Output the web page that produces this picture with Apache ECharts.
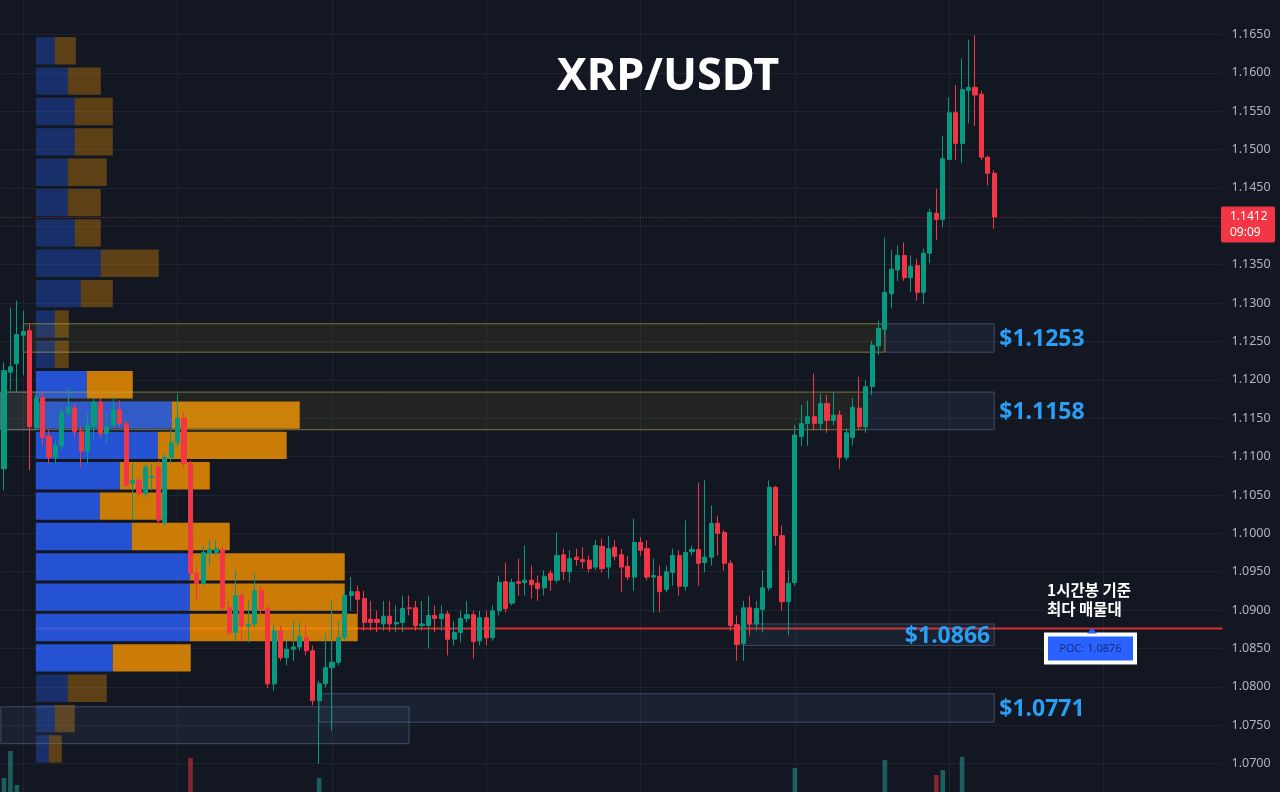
<!DOCTYPE html>
<html>
<head>
<meta charset="utf-8">
<title>XRP/USDT</title>
<script src="https://cdn.jsdelivr.net/npm/echarts@6/dist/echarts.min.js"></script>
<style>
  html, body { margin: 0; padding: 0; background: #131722; }
  #chart { width: 1280px; height: 792px; }
</style>
</head>
<body>
<div id="chart"></div>
<script>
// XRP/USDT 1시간봉 + 거래량 프로파일

// 캔들 (시가 / 종가 / 저가 / 고가)
const opens = [
  1.1084, 1.1210, 1.1221, 1.1258, 1.1264, 1.1138, 1.1177, 1.1126, 1.1099, 1.1114,
  1.1156, 1.1163, 1.1133, 1.1107, 1.1139, 1.1171, 1.1130, 1.1141, 1.1161, 1.1143,
  1.1065, 1.1069, 1.1052, 1.1073, 1.1086, 1.1014, 1.1099, 1.1118, 1.1150, 1.1091,
  1.0948, 1.0935, 1.0974, 1.0975, 1.0979, 1.0903, 1.0871, 1.0919, 1.0879, 1.0882,
  1.0925, 1.0902, 1.0804, 1.0873, 1.0838, 1.0849, 1.0852, 1.0864, 1.0847, 1.0782,
  1.0804, 1.0825, 1.0832, 1.0864, 1.0919, 1.0924, 1.0915, 1.0888, 1.0888, 1.0882,
  1.0892, 1.0882, 1.0884, 1.0903, 1.0903, 1.0880, 1.0880, 1.0893, 1.0889, 1.0895,
  1.0862, 1.0871, 1.0889, 1.0894, 1.0860, 1.0890, 1.0864, 1.0899, 1.0937, 1.0909,
  1.0937, 1.0936, 1.0939, 1.0935, 1.0929, 1.0948, 1.0939, 1.0972, 1.0950, 1.0969,
  1.0966, 1.0965, 1.0956, 1.0983, 1.0956, 1.0982, 1.0972, 1.0957, 1.0943, 1.0988,
  1.0980, 1.0943, 1.0944, 1.0927, 1.0949, 1.0971, 1.0931, 1.0976, 1.0979, 1.0962,
  1.0969, 1.1013, 1.1001, 1.0961, 1.0881, 1.0856, 1.0903, 1.0882, 1.0901, 1.0929,
  1.1060, 1.0997, 1.0911, 1.0936, 1.1126, 1.1143, 1.1152, 1.1143, 1.1169, 1.1147,
  1.1154, 1.1099, 1.1125, 1.1163, 1.1139, 1.1191, 1.1244, 1.1266, 1.1312, 1.1343,
  1.1362, 1.1333, 1.1349, 1.1314, 1.1365, 1.1417, 1.1409, 1.1487, 1.1548, 1.1508,
  1.1577, 1.1581, 1.1572, 1.1490, 1.1469
];
const closes = [
  1.1212, 1.1217, 1.1259, 1.1263, 1.1139, 1.1176, 1.1125, 1.1099, 1.1114, 1.1157,
  1.1164, 1.1133, 1.1107, 1.1141, 1.1171, 1.1130, 1.1139, 1.1161, 1.1143, 1.1062,
  1.1069, 1.1052, 1.1086, 1.1074, 1.1017, 1.1099, 1.1118, 1.1150, 1.1091, 1.0948,
  1.0935, 1.0975, 1.0979, 1.0980, 1.0903, 1.0871, 1.0919, 1.0879, 1.0881, 1.0925,
  1.0902, 1.0804, 1.0873, 1.0838, 1.0849, 1.0852, 1.0866, 1.0847, 1.0782, 1.0804,
  1.0825, 1.0832, 1.0864, 1.0919, 1.0924, 1.0914, 1.0884, 1.0884, 1.0884, 1.0892,
  1.0882, 1.0884, 1.0902, 1.0902, 1.0880, 1.0882, 1.0893, 1.0889, 1.0895, 1.0862,
  1.0871, 1.0889, 1.0894, 1.0859, 1.0890, 1.0864, 1.0899, 1.0936, 1.0902, 1.0936,
  1.0935, 1.0939, 1.0933, 1.0928, 1.0944, 1.0939, 1.0971, 1.0950, 1.0967, 1.0966,
  1.0963, 1.0954, 1.0984, 1.0954, 1.0980, 1.0970, 1.0956, 1.0943, 1.0988, 1.0978,
  1.0943, 1.0945, 1.0924, 1.0950, 1.0971, 1.0931, 1.0975, 1.0979, 1.0961, 1.0969,
  1.1013, 1.1000, 1.0961, 1.0880, 1.0855, 1.0903, 1.0882, 1.0902, 1.0929, 1.1060,
  1.0997, 1.0911, 1.0935, 1.1128, 1.1143, 1.1152, 1.1143, 1.1169, 1.1147, 1.1154,
  1.1099, 1.1131, 1.1164, 1.1139, 1.1191, 1.1245, 1.1267, 1.1314, 1.1344, 1.1362,
  1.1333, 1.1348, 1.1314, 1.1365, 1.1418, 1.1409, 1.1488, 1.1548, 1.1508, 1.1578,
  1.1581, 1.1571, 1.1490, 1.1469, 1.1412
];
const lows = [
  1.1056, 1.1186, 1.1184, 1.1206, 1.1082, 1.1134, 1.1114, 1.1091, 1.1091, 1.1108,
  1.1151, 1.1125, 1.1086, 1.1091, 1.1121, 1.1125, 1.1117, 1.1138, 1.1138, 1.1060,
  1.1017, 1.1047, 1.1047, 1.1056, 1.1010, 1.1010, 1.1091, 1.1112, 1.1086, 1.0945,
  1.0912, 1.0932, 1.0958, 1.0971, 1.0899, 1.0867, 1.0860, 1.0860, 1.0858, 1.0877,
  1.0893, 1.0798, 1.0795, 1.0834, 1.0828, 1.0834, 1.0847, 1.0841, 1.0776, 1.0700,
  1.0799, 1.0743, 1.0828, 1.0860, 1.0899, 1.0893, 1.0873, 1.0873, 1.0871, 1.0873,
  1.0871, 1.0871, 1.0871, 1.0893, 1.0873, 1.0873, 1.0850, 1.0871, 1.0873, 1.0841,
  1.0854, 1.0858, 1.0884, 1.0837, 1.0854, 1.0854, 1.0860, 1.0893, 1.0897, 1.0906,
  1.0919, 1.0919, 1.0915, 1.0912, 1.0919, 1.0925, 1.0936, 1.0939, 1.0936, 1.0958,
  1.0954, 1.0949, 1.0952, 1.0949, 1.0941, 1.0965, 1.0923, 1.0939, 1.0925, 1.0971,
  1.0939, 1.0897, 1.0897, 1.0923, 1.0932, 1.0919, 1.0925, 1.0971, 1.0932, 1.0949,
  1.0958, 1.0971, 1.0952, 1.0873, 1.0834, 1.0834, 1.0867, 1.0873, 1.0871, 1.0925,
  1.0984, 1.0899, 1.0867, 1.0932, 1.1114, 1.1114, 1.1134, 1.1134, 1.1131, 1.1141,
  1.1084, 1.1095, 1.1114, 1.1134, 1.1131, 1.1180, 1.1232, 1.1258, 1.1293, 1.1329,
  1.1329, 1.1314, 1.1303, 1.1299, 1.1352, 1.1382, 1.1399, 1.1486, 1.1486, 1.1482,
  1.1534, 1.1531, 1.1486, 1.1453, 1.1397
];
const highs = [
  1.1223, 1.1294, 1.1303, 1.1290, 1.1273, 1.1180, 1.1184, 1.1134, 1.1121, 1.1164,
  1.1190, 1.1169, 1.1139, 1.1156, 1.1177, 1.1176, 1.1156, 1.1177, 1.1173, 1.1147,
  1.1091, 1.1073, 1.1091, 1.1091, 1.1095, 1.1104, 1.1134, 1.1182, 1.1157, 1.1095,
  1.0956, 1.0984, 1.0991, 1.0991, 1.0984, 1.0912, 1.0952, 1.0925, 1.0912, 1.0948,
  1.0932, 1.0906, 1.0880, 1.0880, 1.0860, 1.0886, 1.0884, 1.0880, 1.0854, 1.0808,
  1.0869, 1.0912, 1.0886, 1.0925, 1.0943, 1.0932, 1.0925, 1.0912, 1.0899, 1.0912,
  1.0912, 1.0906, 1.0919, 1.0919, 1.0912, 1.0912, 1.0919, 1.0906, 1.0906, 1.0899,
  1.0886, 1.0899, 1.0912, 1.0899, 1.0899, 1.0899, 1.0906, 1.0945, 1.0962, 1.0941,
  1.0967, 1.0984, 1.0958, 1.0945, 1.0952, 1.0952, 1.1001, 1.0980, 1.0978, 1.0980,
  1.0982, 1.0971, 1.0991, 1.0993, 1.0997, 1.0991, 1.0980, 1.0971, 1.1019, 1.0995,
  1.0991, 1.0967, 1.0958, 1.0958, 1.0980, 1.0978, 1.1017, 1.0984, 1.1066, 1.1069,
  1.1036, 1.1023, 1.1004, 1.0965, 1.0893, 1.0912, 1.0919, 1.0912, 1.0952, 1.1069,
  1.1062, 1.1010, 1.0952, 1.1141, 1.1167, 1.1173, 1.1208, 1.1182, 1.1180, 1.1184,
  1.1160, 1.1137, 1.1176, 1.1204, 1.1199, 1.1251, 1.1277, 1.1385, 1.1369, 1.1375,
  1.1379, 1.1362, 1.1358, 1.1371, 1.1423, 1.1449, 1.1518, 1.1568, 1.1584, 1.1619,
  1.1643, 1.1649, 1.1577, 1.1492, 1.1473
];

// 화면 하단에 보이는 거래량 막대만 (캔들 번호 / 높이)
const volumeIndex = [0, 1, 2, 29, 49, 123, 137, 145, 146, 149];
const volumeValue = [14, 41, 7, 34, 14, 24, 32, 17, 22, 35];

// 거래량 프로파일 (위에서부터 24칸, 매수 / 매도)
const profileBuy = [19, 32, 39, 39, 32, 32, 39, 65, 45, 19, 19, 51,
  136, 122, 84, 64, 96, 154, 154, 154, 77, 32, 19, 13];
const profileSell = [21, 33, 38, 38, 39, 33, 26, 58, 32, 14, 14, 46,
  128, 129, 90, 67, 98, 155, 155, 168, 78, 39, 20, 13];
const profileHigh = 1.1649;
const profileLow = 1.0700;
const valueAreaRows = [11, 20];
const pocPrice = 1.0876;

// 지지/저항 구간 (시작 캔들, 끝 캔들, 상단, 하단, 종류)
const zoneStart = [3, 137, 0, 134, 0, 115, 49, 0];
const zoneEnd = [137, 154, 134, 154, 5, 154, 154, 63];
const zoneTop = [1.1273, 1.1273, 1.1184, 1.1184, 1.1184, 1.0882, 1.0791, 1.0774];
const zoneBottom = [1.1236, 1.1236, 1.1135, 1.1135, 1.1135, 1.0854, 1.0754, 1.0726];
const zoneKind = ['supply', 'box', 'supply', 'box', 'box', 'box', 'box', 'box'];

// 가격 라벨
const levelPrices = [1.1253, 1.1158, 1.0866, 1.0771];
const levelAnchor = [154, 154, 154, 154];
const levelInside = [false, false, true, false];

const lastPrice = 1.1412;
const countdown = '09:09';

// y축 눈금
const yMin = 1.065;
const yMax = 1.170;
const yStep = 0.005;

const slotCount = 190;
const categories = [];
for (let i = 0; i < slotCount; i++) {
  categories.push(String(i));
}

const UP = '#089981';
const DOWN = '#f23645';
const BG = '#131722';
const GRID_LINE = '#1f2330';
const PROFILE_MIN = -35;
const PROFILE_MAX = 1187;

const zoneStyle = {
  supply: { fill: 'rgba(220,210,60,0.07)', stroke: 'rgba(185,175,75,0.6)', lineWidth: 1 },
  box: { fill: 'rgba(90,120,165,0.11)', stroke: 'rgba(105,125,160,0.5)', lineWidth: 1 }
};

const candleData = opens.map((o, i) => [o, closes[i], lows[i], highs[i]]);

const volumeData = categories.map(() => null);
volumeIndex.forEach((idx, k) => {
  volumeData[idx] = volumeValue[k];
});

const rowStep = (profileHigh - profileLow) / profileBuy.length;
const profileData = profileBuy.map((b, k) => [k, b, profileSell[k]]);
const zoneData = zoneStart.map((s, k) => [s, zoneEnd[k], zoneTop[k], zoneBottom[k]]);
const levelData = levelPrices.map((p, k) => [levelAnchor[k], p]);

function renderZone(params, api) {
  const i1 = api.value(0);
  const i2 = api.value(1);
  const p1 = api.coord([i1, api.value(2)]);
  const p2 = api.coord([i2, api.value(3)]);
  const x1 = i1 === 0 ? params.coordSys.x : p1[0];
  return {
    type: 'rect',
    shape: { x: x1, y: p1[1], width: p2[0] - x1, height: p2[1] - p1[1] },
    style: zoneStyle[zoneKind[params.dataIndex]]
  };
}

function renderProfile(params, api) {
  const k = api.value(0);
  const buy = api.value(1);
  const sell = api.value(2);
  const top = profileHigh - k * rowStep;
  const bottom = top - rowStep;
  const a = api.coord([0, top]);
  const b = api.coord([buy, bottom]);
  const c = api.coord([buy + sell, bottom]);
  const inVA = k >= valueAreaRows[0] && k <= valueAreaRows[1];
  const y = a[1] + 2;
  const h = b[1] - a[1] - 3;
  return {
    type: 'group',
    children: [{
      type: 'rect',
      shape: { x: a[0], y: y, width: b[0] - a[0], height: h },
      style: { fill: inVA ? 'rgba(41,98,255,0.8)' : 'rgba(41,98,255,0.32)' }
    }, {
      type: 'rect',
      shape: { x: b[0], y: y, width: c[0] - b[0], height: h },
      style: { fill: inVA ? 'rgba(255,152,0,0.78)' : 'rgba(255,152,0,0.32)' }
    }]
  };
}

function renderPoc(params, api) {
  const p = api.coord([0, api.value(0)]);
  const right = params.coordSys.x + params.coordSys.width;
  return {
    type: 'line',
    shape: { x1: p[0], y1: p[1], x2: right, y2: p[1] },
    style: { stroke: '#d32f2f', lineWidth: 2 }
  };
}

function renderLevel(params, api) {
  const p = api.coord([api.value(0), api.value(1)]);
  const inside = levelInside[params.dataIndex];
  return {
    type: 'text',
    x: inside ? p[0] - 4 : p[0] + 5,
    y: p[1],
    style: {
      text: '$' + api.value(1).toFixed(4),
      fill: '#2a9df4',
      font: 'bold 23px "Noto Sans", sans-serif',
      align: inside ? 'right' : 'left',
      verticalAlign: 'middle'
    }
  };
}

const chart = echarts.init(document.getElementById('chart'));

const option = {
  backgroundColor: BG,
  animation: false,
  grid: [
    { left: 0.8, right: 57.5, top: -4, bottom: -10, outerBoundsMode: 'none', containLabel: false },
    { left: 0.8, right: 57.5, top: 692, bottom: 0, outerBoundsMode: 'none', containLabel: false }
  ],
  xAxis: [{
    type: 'category',
    gridIndex: 0,
    data: categories,
    axisLine: { show: false },
    axisTick: { show: false },
    axisLabel: { show: false },
    splitLine: {
      show: true,
      alignWithLabel: true,
      interval: (i) => i % 24 === 3,
      lineStyle: { color: GRID_LINE, width: 1 }
    }
  }, {
    type: 'value',
    gridIndex: 0,
    min: PROFILE_MIN,
    max: PROFILE_MAX,
    show: false
  }, {
    type: 'category',
    gridIndex: 1,
    data: categories,
    show: false
  }],
  yAxis: [{
    type: 'value',
    gridIndex: 0,
    position: 'right',
    min: yMin,
    max: yMax,
    interval: yStep,
    axisLine: { show: false },
    axisTick: { show: false },
    axisLabel: {
      color: '#b2b5be',
      fontSize: 12.5,
      fontFamily: '"Noto Sans", sans-serif',
      margin: 9,
      showMinLabel: false,
      showMaxLabel: false,
      formatter: (v) => v.toFixed(4)
    },
    splitLine: { lineStyle: { color: GRID_LINE, width: 1 } }
  }, {
    type: 'value',
    gridIndex: 1,
    min: 0,
    max: 100,
    show: false
  }],
  series: [{
    name: 'POC',
    type: 'custom',
    xAxisIndex: 1,
    yAxisIndex: 0,
    z: 1,
    renderItem: renderPoc,
    data: [[pocPrice]]
  }, {
    name: '거래량 프로파일',
    type: 'custom',
    xAxisIndex: 1,
    yAxisIndex: 0,
    z: 2,
    renderItem: renderProfile,
    data: profileData
  }, {
    name: '구간',
    type: 'custom',
    xAxisIndex: 0,
    yAxisIndex: 0,
    z: 3,
    renderItem: renderZone,
    data: zoneData
  }, {
    name: 'XRP/USDT',
    type: 'candlestick',
    xAxisIndex: 0,
    yAxisIndex: 0,
    z: 5,
    barWidth: '72%',
    itemStyle: {
      color: UP,
      color0: DOWN,
      borderColor: UP,
      borderColor0: DOWN,
      borderWidth: 1
    },
    data: candleData,
    markLine: {
      silent: true,
      symbol: 'none',
      precision: 4,
      z: 4,
      label: { show: false },
      lineStyle: { color: 'rgba(242,54,69,0.65)', type: [1, 2], width: 1 },
      data: [{ yAxis: lastPrice }]
    }
  }, {
    name: '가격',
    type: 'custom',
    xAxisIndex: 0,
    yAxisIndex: 0,
    z: 6,
    renderItem: renderLevel,
    data: levelData
  }, {
    name: '거래량',
    type: 'bar',
    xAxisIndex: 2,
    yAxisIndex: 1,
    barWidth: '72%',
    itemStyle: {
      color: (p) => closes[p.dataIndex] >= opens[p.dataIndex]
        ? 'rgba(38,166,154,0.5)' : 'rgba(242,54,69,0.5)'
    },
    data: volumeData
  }]
};

chart.setOption(option);

// 고정 라벨 (제목, POC 설명, 현재가)
const pocY = chart.convertToPixel({ yAxisIndex: 0 }, pocPrice);
const lastY = chart.convertToPixel({ yAxisIndex: 0 }, lastPrice);

chart.setOption({
  graphic: [{
    type: 'text',
    z: 100,
    x: 668,
    y: 77,
    style: {
      text: 'XRP/USDT',
      fill: '#ffffff',
      font: 'bold 45px "Noto Sans", sans-serif',
      align: 'center',
      verticalAlign: 'middle'
    }
  }, {
    type: 'text',
    z: 100,
    x: 1047,
    y: pocY - 48,
    style: {
      text: '1시간봉 기준\n최다 매물대',
      fill: '#ffffff',
      font: 'bold 15.5px "Noto Sans CJK KR", sans-serif',
      lineHeight: 19,
      align: 'left',
      verticalAlign: 'top'
    }
  }, {
    type: 'rect',
    z: 100,
    shape: { x: 1044, y: pocY + 4, width: 93, height: 32 },
    style: { fill: '#ffffff' }
  }, {
    type: 'rect',
    z: 101,
    shape: { x: 1048, y: pocY + 8, width: 85, height: 24 },
    style: { fill: '#2962ff' }
  }, {
    type: 'polygon',
    z: 101,
    shape: { points: [[1087, pocY + 5], [1097, pocY + 5], [1092, pocY - 1]] },
    style: { fill: '#2962ff' }
  }, {
    type: 'text',
    z: 102,
    x: 1090.5,
    y: pocY + 20,
    style: {
      text: 'POC: ' + pocPrice.toFixed(4),
      fill: '#1c2d7a',
      font: '11px "Noto Sans", sans-serif',
      align: 'center',
      verticalAlign: 'middle'
    }
  }, {
    type: 'rect',
    z: 100,
    shape: { x: 1221, y: lastY - 10.5, width: 54, height: 36, r: 2 },
    style: { fill: DOWN }
  }, {
    type: 'text',
    z: 101,
    x: 1230,
    y: lastY,
    style: {
      text: lastPrice.toFixed(4),
      fill: '#ffffff',
      font: '12px "Noto Sans", sans-serif',
      verticalAlign: 'middle'
    }
  }, {
    type: 'text',
    z: 101,
    x: 1230,
    y: lastY + 16,
    style: {
      text: countdown,
      fill: '#ffffff',
      font: '12px "Noto Sans", sans-serif',
      verticalAlign: 'middle'
    }
  }]
});
</script>
</body>
</html>
